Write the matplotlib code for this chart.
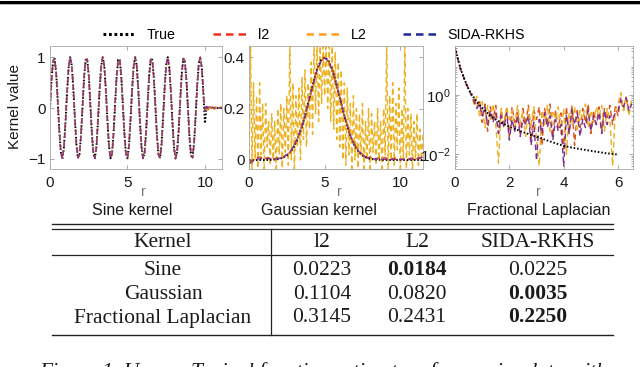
import numpy as np
import matplotlib
matplotlib.use("Agg")
import matplotlib.pyplot as plt
from matplotlib.lines import Line2D

plt.rcParams['font.family'] = ['Liberation Sans', 'DejaVu Sans']
plt.rcParams['mathtext.fontset'] = 'custom'
plt.rcParams['mathtext.rm'] = 'Liberation Sans'
plt.rcParams['mathtext.it'] = 'Liberation Sans:italic'
plt.rcParams['mathtext.bf'] = 'Liberation Sans:bold'

# ---------------- data ----------------
methods = ["True", "l2", "L2", "SIDA-RKHS"]

# Sine kernel (r = 0 .. 9.9 step 0.1), then tails r = 10.0 .. 11.1
sine_body = [0.00, 0.56, 0.93, 0.97, 0.68, 0.14, -0.44, -0.87, -1.00, -0.77,
             -0.28, 0.31, 0.79, 1.00, 0.85, 0.41, -0.17, -0.70, -0.98, -0.92,
             -0.54, 0.03, 0.61, 0.95, 0.96, 0.65, 0.09, -0.49, -0.90, -0.99,
             -0.75, -0.23, 0.34, 0.81, 1.00, 0.84, 0.38, -0.21, -0.72, -0.99,
             -0.91, -0.51, 0.07, 0.62, 0.95, 0.96, 0.62, 0.07, -0.50, -0.90,
             -0.99, -0.73, -0.21, 0.37, 0.83, 1.00, 0.82, 0.35, -0.24, -0.75,
             -0.99, -0.89, -0.48, 0.10, 0.65, 0.96, 0.95, 0.60, 0.04, -0.53,
             -0.92, -0.98, -0.71, -0.18, 0.41, 0.85, 1.00, 0.80, 0.32, -0.27,
             -0.77, -1.00, -0.87, -0.45, 0.13, 0.67, 0.97, 0.93, 0.57, 0.01,
             -0.56, -0.93, -0.98, -0.68, -0.15, 0.44, 0.87, 1.00, 0.78, 0.29]
sine_tail_true = [-0.30, 0.00, 0.00, 0.00, 0.00, 0.00, 0.00, 0.00, 0.00, 0.00, 0.00, 0.00]
sine_tail_l2 = [-0.02, 0.04, -0.03, 0.02, 0.03, -0.02, 0.01, 0.02, -0.01, 0.00, 0.02, 0.00]
sine_tail_L2 = [0.03, -0.04, 0.04, -0.02, 0.00, 0.03, -0.03, 0.02, 0.00, -0.02, 0.01, 0.03]
sine_tail_sida = [-0.08, 0.03, 0.01, 0.02, -0.02, 0.02, 0.00, -0.01, 0.02, 0.00, 0.01, 0.00]

# Gaussian kernel, smooth curves on r = 0 .. 11.5 step 0.25
gauss_true = [0.0, 0.0, 0.0, 0.0, 0.0001, 0.0004, 0.0009, 0.002, 0.0044, 0.0091,
              0.0175, 0.0317, 0.054, 0.0863, 0.1295, 0.1826, 0.242, 0.3011, 0.3521, 0.3867,
              0.3989, 0.3867, 0.3521, 0.3011, 0.242, 0.1826, 0.1295, 0.0863, 0.054, 0.0317,
              0.0175, 0.0091, 0.0044, 0.002, 0.0009, 0.0004, 0.0001, 0.0, 0.0, 0.0,
              0.0, 0.0, 0.0, 0.0, 0.0, 0.0, 0.0]
gauss_sida = [-0.015, -0.005, 0.003, 0.005, 0.006, 0.005, 0.004, 0.004, 0.006, 0.011,
              0.020, 0.035, 0.058, 0.090, 0.130, 0.180, 0.238, 0.296, 0.348, 0.383,
              0.396, 0.385, 0.350, 0.300, 0.243, 0.185, 0.132, 0.088, 0.056, 0.034,
              0.020, 0.011, 0.006, 0.004, 0.003, 0.003, 0.003, 0.002, 0.002, 0.003,
              0.003, 0.002, 0.002, 0.003, 0.004, 0.006, 0.012]
gauss_l2 = [-0.010, 0.000, 0.008, 0.012, 0.004, 0.010, 0.002, 0.006, 0.010, 0.008,
            0.025, 0.030, 0.062, 0.085, 0.135, 0.178, 0.242, 0.292, 0.352, 0.380,
            0.400, 0.382, 0.355, 0.296, 0.246, 0.180, 0.136, 0.084, 0.060, 0.030,
            0.024, 0.006, 0.012, 0.000, 0.008, 0.004, 0.010, 0.000, 0.006, 0.008,
            0.000, 0.006, 0.004, 0.008, 0.002, 0.010, 0.006]
# Gaussian L2 estimate (very noisy), r = 0 .. 11.5 step 0.1
gauss_L2 = [-0.05, 0.46, -0.05, 0.30, 0.00, 0.25, -0.05, 0.30, 0.02, 0.22,
            -0.05, 0.22, 0.05, 0.15, -0.02, 0.18, 0.00, 0.15, -0.05, 0.20,
            0.02, 0.22, -0.05, 0.20, 0.03, 0.25, -0.02, 0.46, 0.00, 0.30,
            -0.05, 0.25, 0.05, 0.28, 0.00, 0.32, 0.08, 0.35, 0.05, 0.30,
            0.12, 0.38, 0.10, 0.46, 0.18, 0.46, 0.15, 0.46, 0.22, 0.46,
            0.25, 0.46, 0.20, 0.46, 0.15, 0.46, 0.12, 0.42, 0.08, 0.38,
            0.05, 0.35, 0.00, 0.30, -0.02, 0.28, 0.02, 0.22, -0.05, 0.25,
            0.00, 0.20, -0.05, 0.18, 0.02, 0.22, -0.05, 0.15, 0.00, 0.20,
            -0.05, 0.18, 0.03, 0.15, -0.02, 0.20, 0.00, 0.15, -0.05, 0.20,
            0.02, 0.46, -0.05, 0.25, 0.00, 0.30, -0.02, 0.22, 0.04, 0.28,
            -0.05, 0.20, 0.00, 0.46, -0.05, 0.20, 0.02, 0.18, -0.05, 0.15,
            0.00, 0.18, -0.02, 0.12, 0.00, 0.10]

# Fractional Laplacian
frac_r_true = [0.0, 0.05, 0.1, 0.15, 0.2, 0.3, 0.4, 0.5, 0.6, 0.8, 1.0, 1.25, 1.5,
               1.75, 2.0, 2.5, 3.0, 3.5, 4.0, 4.5, 5.0, 5.5, 6.0]
frac_true = [40, 28, 18, 12, 8, 4.5, 2.6, 1.6, 1.1, 0.6, 0.37, 0.22, 0.15,
             0.11, 0.085, 0.056, 0.039, 0.027, 0.019, 0.0155, 0.013, 0.011, 0.0097]
# estimators on r = 0 .. 6.5 step 0.1
frac_l2 = [38, 17, 7.5, 4.4, 2.5, 1.7, 1.0, 0.8, 0.4, 0.7,
           0.12, 0.5, 0.06, 0.4, 0.15, 0.45, 0.05, 0.3, 0.1, 0.35,
           0.04, 0.4, 0.12, 0.3, 0.05, 0.35, 0.1, 0.45, 0.03, 0.3,
           0.15, 0.4, 0.02, 0.35, 0.1, 0.5, 0.04, 0.3, 0.08, 0.25,
           0.015, 0.4, 0.05, 0.45, 0.02, 0.3, 0.08, 0.35, 0.12, 0.5,
           0.05, 0.3, 0.1, 0.4, 0.06, 0.35, 0.15, 0.45, 0.1, 0.4,
           0.2, 0.8, 0.3, 0.9, 0.25, 0.6]
frac_L2 = [38, 18, 8, 4.6, 2.6, 1.5, 1.1, 0.5, 0.9, 0.2,
           0.6, 0.08, 0.45, 0.15, 0.5, 0.1, 0.005, 0.35, 0.08, 0.4,
           0.15, 0.3, 0.06, 0.45, 0.12, 0.25, 0.04, 0.35, 0.1, 0.4,
           0.03, 0.004, 0.3, 0.1, 0.45, 0.06, 0.3, 0.15, 0.4, 0.05,
           0.35, 0.01, 0.25, 0.1, 0.4, 0.07, 0.3, 0.15, 0.5, 0.08,
           0.3, 0.12, 0.4, 0.2, 0.45, 0.06, 0.35, 0.15, 0.004, 0.3,
           0.5, 1.2, 0.3, 0.9, 0.2, 0.7]
frac_sida = [38, 17, 7.8, 4.4, 2.5, 1.6, 1.0, 0.6, 0.35, 0.5,
             0.2, 0.4, 0.1, 0.3, 0.12, 0.25, 0.05, 0.2, 0.08, 0.25,
             0.03, 0.15, 0.06, 0.2, 0.04, 0.15, 0.1, 0.2, 0.02, 0.12,
             0.006, 0.15, 0.05, 0.25, 0.08, 0.2, 0.03, 0.15, 0.06, 0.1,
             0.004, 0.2, 0.05, 0.3, 0.1, 0.25, 0.04, 0.15, 0.08, 0.3,
             0.06, 0.2, 0.1, 0.25, 0.05, 0.3, 0.1, 0.2, 0.15, 0.25,
             0.3, 0.7, 0.4, 0.8, 0.3, 0.5]

# Table
table_kernels = ["Sine", "Gaussian", "Fractional Laplacian"]
table_methods = ["l2", "L2", "SIDA-RKHS"]
table_errors = [[0.0223, 0.0184, 0.0225],
                [0.1104, 0.0820, 0.0035],
                [0.3145, 0.2431, 0.2250]]

panel_titles = ["Sine kernel", "Gaussian kernel", "Fractional Laplacian"]
caption = "Figure 1. Upper: Typical function estimators from noisy data with"

# ---------------- style ----------------
C_TRUE = 'black'
C_l2 = '#D95319'
C_L2 = '#EDB120'
C_SIDA = '#7E2F8E'
LEG_COL = ['black', '#f2301c', '#ff9e1b', '#1c2799']

W, H = 640, 367
fig = plt.figure(figsize=(W / 100, H / 100), dpi=100)


def fx(x):
    return x / W


def fy(y):
    return 1 - y / H


def add_axes(l, r, t, b):
    return fig.add_axes([fx(l), fy(b), fx(r) - fx(l), fy(t) - fy(b)])


def style(ax):
    ax.tick_params(which='both', direction='in', top=True, right=True,
                   colors='#8a8a8a', labelcolor='#1a1a1a', labelsize=11, width=0.5)
    ax.tick_params(which='major', length=3)
    ax.tick_params(which='minor', length=1.6)
    ax.tick_params(axis='x', pad=5)
    ax.tick_params(axis='y', pad=3)
    for s in ax.spines.values():
        s.set_color('#a8a8a8')
        s.set_linewidth(0.6)


true_kw = dict(color=C_TRUE, lw=1.4, linestyle=(0, (0.8, 1.0)))
est_kw = dict(lw=1.0, linestyle=(0, (4, 2.5)))

# --- Sine panel
ax1 = add_axes(50, 222, 46, 169)
sine_r = np.round(np.arange(len(sine_body) + len(sine_tail_true)) * 0.1, 2)
ax1.plot(sine_r, sine_body + sine_tail_true, **true_kw)
ax1.plot(sine_r, sine_body + sine_tail_l2, color=C_l2, **est_kw)
ax1.plot(sine_r, sine_body + sine_tail_L2, color=C_L2, **est_kw)
ax1.plot(sine_r, sine_body + sine_tail_sida, color=C_SIDA, **est_kw)
ax1.set_xlim(0, 11.1)
ax1.set_ylim(-1.2, 1.22)
ax1.set_xticks([0, 5, 10])
ax1.set_yticks([-1, 0, 1])
style(ax1)
ax1.set_ylabel("Kernel value", fontsize=11, color='#1a1a1a')
ax1.yaxis.set_label_coords(-0.165, 0.51)

# --- Gaussian panel
ax2 = add_axes(249, 423, 46, 169)
g_r = np.linspace(0, 11.5, len(gauss_true))
gL_r = np.linspace(0, 11.5, len(gauss_L2))
ax2.plot(gL_r, gauss_L2, color=C_L2, lw=1.0, linestyle=(0, (4, 2.5)))
ax2.plot(g_r, gauss_true, **true_kw)
ax2.plot(g_r, gauss_l2, color=C_l2, **est_kw)
ax2.plot(g_r, gauss_sida, color=C_SIDA, **est_kw)
ax2.set_xlim(0, 11.5)
ax2.set_ylim(-0.035, 0.443)
ax2.set_xticks([0, 5, 10])
ax2.set_yticks([0, 0.2, 0.4])
ax2.set_yticklabels(['0', '0.2', '0.4'])
style(ax2)

# --- Fractional Laplacian panel
ax3 = add_axes(455, 633, 46, 169)
fe_r = np.linspace(0, 6.5, len(frac_l2))
ax3.plot(fe_r, frac_l2, color=C_l2, **est_kw)
ax3.plot(fe_r, frac_L2, color=C_L2, **est_kw)
ax3.plot(fe_r, frac_sida, color=C_SIDA, **est_kw)
ax3.plot(frac_r_true, frac_true, **true_kw)
ax3.set_yscale('log')
ax3.set_xlim(0, 6.55)
ax3.set_ylim(10 ** -2.5, 10 ** 1.66)
ax3.set_xticks([0, 2, 4, 6])
ax3.set_yticks([1, 0.01])
ax3.set_yticklabels(['$10^{0}$', '$10^{-2}$'])
style(ax3)

for ax, title, rx, tx in [(ax1, panel_titles[0], 0.54, 0.477),
                          (ax2, panel_titles[1], 0.52, 0.40),
                          (ax3, panel_titles[2], 0.47, 0.47)]:
    ax.set_xlabel('r', fontsize=10, color='#777777')
    ax.xaxis.set_label_coords(rx, -0.13)
    ax.text(tx, -0.335, title, transform=ax.transAxes, ha='center', va='center',
            fontsize=11.5, color='#1a1a1a')

# --- legend
handles = [Line2D([], [], color=LEG_COL[0], lw=2.2, linestyle=(0, (0.9, 0.9))),
           Line2D([], [], color=LEG_COL[1], lw=1.8, linestyle=(0, (3, 2))),
           Line2D([], [], color=LEG_COL[2], lw=1.8, linestyle=(0, (3, 2))),
           Line2D([], [], color=LEG_COL[3], lw=1.8, linestyle=(0, (3, 2)))]
fig.legend(handles, methods, loc='center', bbox_to_anchor=(fx(314), fy(35)),
           ncol=4, frameon=False, handlelength=2.3, handletextpad=0.8,
           columnspacing=2.6, fontsize=10.3)

# --- top rule (cropped page border)
fig.add_artist(Line2D([0, 1], [fy(1.5), fy(1.5)], transform=fig.transFigure,
                      color='black', lw=2.2))
fig.add_artist(Line2D([0, 1], [fy(4.2), fy(4.2)], transform=fig.transFigure,
                      color='#9a9a9a', lw=0.5))

# --- table
serif = ['Liberation Serif', 'DejaVu Serif']
tl, tr = 52, 613


def hline(y, lw):
    fig.add_artist(Line2D([fx(tl), fx(tr)], [fy(y), fy(y)], transform=fig.transFigure,
                          color='#222222', lw=lw))


hline(224, 1.0)
hline(228.5, 0.9)
hline(255, 0.9)
hline(335, 1.0)
fig.add_artist(Line2D([fx(271), fx(271)], [fy(228.5), fy(335)], transform=fig.transFigure,
                      color='#222222', lw=0.9))

col_x = [163, 322, 417, 538]
head_base = 246.7
row_base = [275, 299, 322.5]
tfs = 15.5
fig.text(fx(col_x[0]), fy(head_base), "Kernel", ha='center', va='baseline',
         family=serif, fontsize=tfs, color='#1a1a1a')
for j, m in enumerate(table_methods):
    fig.text(fx(col_x[j + 1]), fy(head_base), m, ha='center', va='baseline',
             family=serif, fontsize=tfs, color='#1a1a1a')
for i, k in enumerate(table_kernels):
    fig.text(fx(col_x[0]), fy(row_base[i]), k, ha='center', va='baseline',
             family=serif, fontsize=tfs, color='#1a1a1a')
    best = int(np.argmin(table_errors[i]))
    for j, v in enumerate(table_errors[i]):
        fig.text(fx(col_x[j + 1]), fy(row_base[i]), f"{v:.4f}", ha='center', va='baseline',
                 family=serif, fontsize=tfs, color='#1a1a1a',
                 fontweight='bold' if j == best else 'normal')

# --- caption, cropped at the bottom edge as in the reference
fig.text(fx(39), fy(376.5), caption, ha='left', va='baseline', family=serif,
         fontsize=tfs, fontstyle='italic', color='#1a1a1a')

fig.savefig("out.png", dpi=100)
